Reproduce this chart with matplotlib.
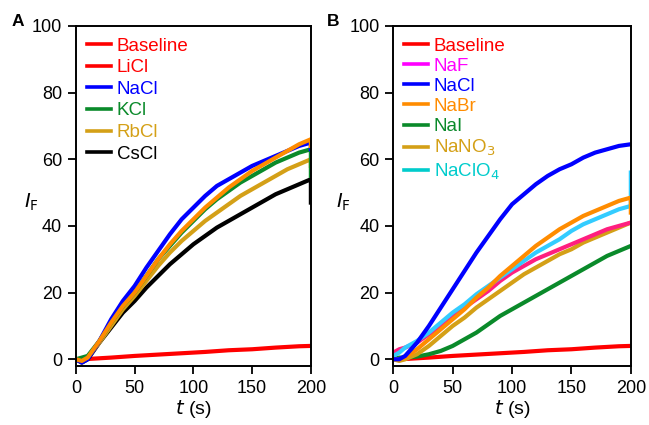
import numpy as np
import matplotlib.pyplot as plt
from matplotlib.lines import Line2D

plt.rcParams['font.family'] = ['Liberation Sans', 'DejaVu Sans']

# last time repeated: traces drop or jump at the very end
t = [0, 5, 10, 20, 30, 40, 50, 60, 70, 80, 90, 100, 110, 120, 130, 140, 150, 160, 170, 180, 190, 200, 200]
t_base = [6, 30, 50, 70, 90, 110, 130, 150, 170, 190, 200]
baseline = [0.0, 0.5, 1.0, 1.4, 1.8, 2.2, 2.7, 3.0, 3.5, 3.9, 4.0]

# panel A: alkali chlorides
a_licl = [0, -0.5, 0.5, 5.5, 11, 16, 20, 25, 30, 34.5, 38.5, 42, 45.5, 48.5, 51.5, 54, 56.5, 58.5, 60.5, 62.5, 64.5, 66, 64]
a_nacl = [0, -1, 0, 5.5, 12, 17.5, 22, 27.5, 32.5, 37.5, 42, 45.5, 49, 52, 54, 56, 58, 59.5, 61, 62.5, 64, 65, 63]
a_kcl = [0, 0.5, 1, 5.5, 11, 16, 20, 25, 30, 34, 38, 41.5, 45, 48, 50.5, 53, 55, 57, 59, 60.5, 62, 63, 55]
a_rbcl = [0, -0.5, 0.5, 5, 10, 15, 19, 23.5, 28, 32, 35.5, 38.5, 41.5, 44, 46.5, 49, 51, 53, 55, 57, 58.5, 60, 58]
a_cscl = [0, -1, 0, 5, 9.5, 14, 17.5, 21.5, 25, 28.5, 31.5, 34.5, 37, 39.5, 41.5, 43.5, 45.5, 47.5, 49.5, 51, 52.5, 54, 47]

# panel B: sodium salts
b_naf = [2, 3, 3.5, 5, 7.5, 10, 13, 15.5, 18, 20.5, 23.5, 26, 28, 30, 31.5, 33, 34.5, 36, 37.5, 39, 40, 41, 41]
b_nacl = [0, 0, 1, 5, 10, 15.5, 21, 26.5, 32, 37, 42, 46.5, 49.5, 52.5, 55, 57, 58.5, 60.5, 62, 63, 64, 64.5, 64.5]
b_nabr = [0, 0, 0.5, 3, 6, 9, 12, 15, 18.5, 21.5, 25, 28, 31, 34, 36.5, 39, 41, 43, 44.5, 46, 47.5, 48.5, 44]
b_nai = [0, 0.5, 0.5, 0.8, 1.5, 2.5, 4, 6, 8, 10.5, 13, 15, 17, 19, 21, 23, 25, 27, 29, 31, 32.5, 34, 34]
b_nano3 = [0, -0.5, 0, 1.5, 4, 7, 10, 12.5, 15.5, 18, 20.5, 23, 25.5, 27.5, 29.5, 31.5, 33, 35, 36.5, 38, 39.5, 41, 41]
b_naclo4 = [1, 2, 3.5, 5.5, 8, 11, 14, 16.5, 19.5, 22, 24.5, 27, 29.5, 32, 34, 36, 38.5, 40.5, 42, 43.5, 45, 46, 56]

fig = plt.figure(figsize=(6.49, 4.25), dpi=100)
ax1 = fig.add_axes([0.117, 0.139, 0.362, 0.8])
ax2 = fig.add_axes([0.606, 0.139, 0.366, 0.8])

lw = 3.0
ax1.plot(t_base, baseline, color='#ff0000', lw=lw)
ax1.plot(t, a_cscl, color='black', lw=lw)
ax1.plot(t, a_rbcl, color='#d4a017', lw=lw)
ax1.plot(t, a_kcl, color='#0a8a2a', lw=lw)
ax1.plot(t, a_nacl, color='#0000ff', lw=lw)
ax1.plot(t, a_licl, color='#ff8c00', lw=lw)

ax2.plot(t_base, baseline, color='#ff0000', lw=lw)
ax2.plot(t, b_nai, color='#0a8a2a', lw=lw)
ax2.plot(t, b_nano3, color='#d4a017', lw=lw)
ax2.plot(t, b_naf, color='#ff1f7f', lw=lw)
ax2.plot(t, b_naclo4, color='#33ccff', lw=lw)
ax2.plot(t, b_nabr, color='#ff8c00', lw=lw)
ax2.plot(t, b_nacl, color='#0000ff', lw=lw)

names_a = ['Baseline', 'LiCl', 'NaCl', 'KCl', 'RbCl', 'CsCl']
cols_a = ['#ff0000', '#ff0000', '#0000ff', '#0a8a2a', '#d4a017', 'black']
names_b = ['Baseline', 'NaF', 'NaCl', 'NaBr', 'NaI', 'NaNO$_3$', 'NaClO$_4$']
cols_b = ['#ff0000', '#ff00ff', '#0000ff', '#ff8c00', '#0a8a2a', '#d4a017', '#00cccc']

for ax, names, cols, ylx, lsp in [(ax1, names_a, cols_a, -0.19, 0.24),
                                  (ax2, names_b, cols_b, -0.21, 0.16)]:
    ax.set_xlim(0, 200)
    ax.set_ylim(-2, 100)
    ax.set_xticks([0, 50, 100, 150, 200])
    ax.set_yticks([0, 20, 40, 60, 80, 100])
    ax.tick_params(direction='out', length=6, width=1.3, labelsize=13, pad=4,
                   top=False, right=False)
    for s in ax.spines.values():
        s.set_linewidth(1.4)
    handles = [Line2D([], [], color=c, lw=2.6) for c in cols]
    leg = ax.legend(handles, names, loc='upper left', frameon=False, fontsize=13.5,
                    handlelength=1.3, handletextpad=0.3, labelspacing=lsp,
                    borderaxespad=0.0, borderpad=0.0, bbox_to_anchor=(0.045, 0.966))
    for txt, c in zip(leg.get_texts(), cols):
        txt.set_color(c)
    ax.set_xlabel('$t$ (s)', fontsize=14, labelpad=1)
    ax.set_ylabel('$I_{\\mathrm{F}}$', fontsize=14, rotation=0, va='center')
    ax.yaxis.set_label_coords(ylx, 0.48)

fig.text(0.028, 0.95, 'A', fontsize=12.5, fontweight='bold', ha='center', va='center')
fig.text(0.513, 0.95, 'B', fontsize=12.5, fontweight='bold', ha='center', va='center')

fig.savefig('out.png', dpi=100)
